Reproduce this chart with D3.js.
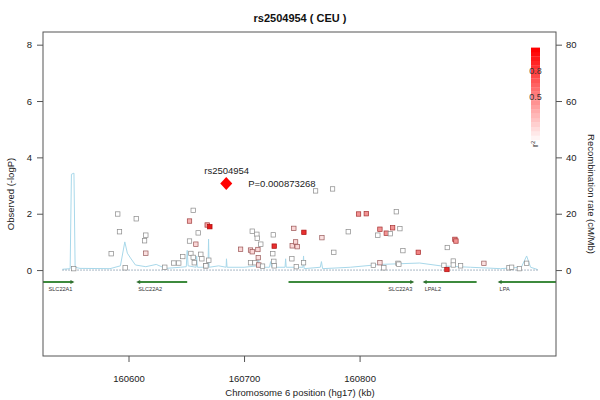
<!DOCTYPE html>
<html>
<head>
<meta charset="UTF-8"/>
<style>
    body { margin: 0; background: #fff; font-family: "Liberation Sans", Arial, Helvetica, sans-serif; }
    svg text { font-family: "Liberation Sans", Arial, Helvetica, sans-serif; }
</style>
</head>
<body>
<script src="https://d3js.org/d3.v7.min.js"></script>
<div id="chart"></div>
<script>
    // SNP positions (kb), -log10 P, r2 with the lead SNP
    var snpPos = [160552.6,160585,160590.7,160592.2,160597.1,160606.7,160613.9,160615,160615,160631.4,160639.2,160643.5,160647,
        160652.8,160652.8,160654,160656,160656,160656.9,160658.3,160660.3,160662.6,160663.5,160666.7,160667,160668.1,160669.5,160670.4,
        160697,160705.6,160705.6,160707.1,160707.1,160709.4,160711.1,160711.4,160712,160712.3,160712.8,160714.5,160716,
        160724.9,160725.3,160725.8,160726.1,160726.1,160741.4,160741.7,160743.1,160744.6,160745.2,160746,160751.5,160751.8,
        160761.9,160767.4,160776.6,160777.7,160790.2,160799.1,160805.8,160811.9,160815.8,160817.6,160817.6,160821,160823.1,
        160826.6,160828.6,160831.8,160833.2,160834,160834.9,160837.5,160850.8,160873,160875.6,160875.9,160881.1,160881.1,
        160882.5,160883.4,160887.4,160907.6,160929.3,160931.6,160938.3,160944.6];
    var snpLogP = [0.05,0.58,1.99,1.36,0.08,1.82,1.04,1.24,0.6,0.1,0.25,0.25,0.48,
        1.74,1.03,0.59,2.12,0.45,0.26,0.92,1.32,0.56,0.4,0.15,0.15,1.6,0.35,1.54,
        0.74,0.71,0.26,1.38,0.65,0.26,1.27,1.13,0.73,0.44,0.18,0.92,0.14,
        0.58,1.25,0.31,0.85,0.15,0.4,0.86,1.48,1.0,0.12,0.83,0.26,1.34,
        2.81,1.15,2.88,0.63,1.36,1.99,2.0,0.17,1.24,1.45,0.26,0.08,1.31,
        1.29,1.5,2.07,0.24,0.21,1.47,0.69,0.63,0.17,0.02,0.8,0.32,0.18,
        1.09,1.03,0.15,0.24,0.08,0.1,0.05,0.24];
    var snpR2 = [0,0,0,0,0,0,0,0,0.35,0,0,0,0,
        0.55,0,0,0,0,0,0.4,0,0,0,0,0,0.6,0,0.95,
        0.4,0.4,0,0,0.4,0,0,0,0.4,0.35,0.35,0,0,
        0,0,0,0.9,0,0,0.4,0.4,0.4,0,0.4,0,0.9,
        0,0.35,0,0,0,0.65,0.65,0,0,0.65,0.35,0,0.65,
        0,0.65,0,0,0,0,0,0.7,0,0.9,0,0,0,
        0.65,0.65,0,0.35,0,0,0,0];

    // lead SNP
    var leadName = "rs2504954", leadPos = 160684.6, leadLogP = 3.07, leadP = "P=0.000873268";

    // recombination rate (cM/Mb)
    var recPos = [160542.9,160549.5,160550.6,160552.8,160553.8,160558,160584,160593,160596.8,160599,160601.7,160606,160615,
        160624,160632,160645,160650,160650.8,160651.6,160658.5,160659,160659.6,160668.8,160669.3,160669.8,160678,160684.5,
        160684.8,160685.3,160700,160712,160712.6,160713.2,160722,160723,160724,160735.5,160736,160736.5,160751,160751.5,
        160752,160766,160767,160768,160792,160818,160852,160870,160896,160922,160940,160944.6,160948,160954];
    var recRate = [0.3,0.5,34,34.4,1,0.6,0.5,1.5,10,6,4.3,1.8,1.2,
        2,0.6,1,1.2,7,1.5,1,5,1,1,11,1,1.5,1,
        4,1,1,1.5,5,1,1,3,1,1,4,1,1,5,
        0.5,1,3,0.5,1,2,2.5,1.5,1,0.5,1,5,1,0.2];

    // genes
    var geneNames = ["SLC22A1","SLC22A2","SLC22A3","LPAL2","LPA"];
    var geneStart = [160520,160608.4,160738.5,160856.3,160921.2];
    var geneEnd = [160551.5,160650.8,160845.6,160901.3,160980];
    var geneStrand = ["+","-","+","-","-"];

    var xTicks = [160600,160700,160800];
    var yTicks = [0,2,4,6,8];
    var recTicks = [0,20,40,60,80];

    var W = 600, H = 400;
    var pL = 43, pR = 556, pT = 32, pB = 356;

    var svg = d3.select("#chart").append("svg")
        .attr("width", W).attr("height", H);

    var x = d3.scaleLinear().domain([160526, 160970]).range([pL, pR]);
    var y = d3.scaleLinear().domain([-3.05, 8.45]).range([pB, pT]);
    var yr = d3.scaleLinear().domain([-30.5, 84.5]).range([pB, pT]);

    svg.append("clipPath").attr("id", "clip")
        .append("rect").attr("x", pL).attr("y", pT).attr("width", pR - pL).attr("height", pB - pT);

    var plot = svg.append("g").attr("clip-path", "url(#clip)");

    // recombination line
    var recData = recPos.map(function(p, i) { return [p, recRate[i]]; });
    plot.append("path")
        .datum(recData)
        .attr("fill", "none")
        .attr("stroke", "#a8d8ea")
        .attr("stroke-width", 1)
        .attr("d", d3.line().x(function(d) { return x(d[0]); }).y(function(d) { return yr(d[1]); }));

    // marker rug line at zero
    plot.append("line")
        .attr("x1", x(160542.9)).attr("x2", x(160954))
        .attr("y1", y(0)).attr("y2", y(0))
        .attr("stroke", "#55708a")
        .attr("stroke-width", 1)
        .attr("stroke-dasharray", "1,2");

    // snps
    var fillCol = d3.interpolateRgb("#ffffff", "#e00000");
    var strokeCol = d3.interpolateRgb("#8a8a8a", "#b00000");
    var snps = snpPos.map(function(p, i) { return {pos: p, lp: snpLogP[i], r2: snpR2[i]}; });
    plot.selectAll("rect.snp")
        .data(snps)
        .enter()
        .append("rect")
        .attr("class", "snp")
        .attr("x", function(d) { return x(d.pos) - 2.2; })
        .attr("y", function(d) { return y(d.lp) - 2.2; })
        .attr("width", 4.4).attr("height", 4.4)
        .attr("fill", function(d) { return d.r2 < 0.3 ? "#fff" : fillCol(d.r2 * d.r2); })
        .attr("stroke", function(d) { return strokeCol(d.r2); })
        .attr("stroke-width", 0.7);

    // lead snp diamond
    var lx = x(leadPos), ly = y(leadLogP);
    plot.append("path")
        .attr("d", "M" + lx + "," + (ly - 6.5) + "L" + (lx + 6) + "," + ly + "L" + lx + "," + (ly + 6.5) + "L" + (lx - 6) + "," + ly + "Z")
        .attr("fill", "#ff0000");
    svg.append("text")
        .attr("x", lx - 22).attr("y", ly - 10)
        .attr("font-size", "9.5px").attr("fill", "#222")
        .text(leadName);
    svg.append("text")
        .attr("x", lx + 22).attr("y", ly + 3.5)
        .attr("font-size", "9.5px").attr("fill", "#222")
        .text(leadP);

    // genes
    var gy = 282;
    geneNames.forEach(function(g, i) {
        var x0 = x(geneStart[i]), x1 = x(geneEnd[i]);
        plot.append("line")
            .attr("x1", x0).attr("x2", x1).attr("y1", gy).attr("y2", gy)
            .attr("stroke", "#3d8a3d").attr("stroke-width", 2);
        var ax = geneStrand[i] == "+" ? x1 : x0;
        var dir = geneStrand[i] == "+" ? 1 : -1;
        if (ax < pR - 2) {
            plot.append("path")
                .attr("d", "M" + (ax + dir * 2) + "," + gy + "L" + (ax - dir * 2) + "," + (gy - 2) + "L" + (ax - dir * 2) + "," + (gy + 2) + "Z")
                .attr("fill", "#2f6f2f");
        }
        var lab = geneStrand[i] == "+" ? Math.min(x1, pR) : Math.max(x0, pL);
        svg.append("text")
            .attr("x", lab).attr("y", gy + 9)
            .attr("text-anchor", geneStrand[i] == "+" ? "end" : "start")
            .attr("font-size", "5.6px").attr("fill", "#333")
            .text(g);
    });

    // frame
    svg.append("rect")
        .attr("x", pL).attr("y", pT).attr("width", pR - pL).attr("height", pB - pT)
        .attr("fill", "none").attr("stroke", "#555").attr("stroke-width", 1);

    // axes
    var ax1 = svg.append("g").attr("transform", "translate(" + pL + ",0)")
        .call(d3.axisLeft(y).tickValues(yTicks).tickSize(6).tickPadding(5));
    var ax2 = svg.append("g").attr("transform", "translate(" + pR + ",0)")
        .call(d3.axisRight(yr).tickValues(recTicks).tickSize(6).tickPadding(4));
    var ax3 = svg.append("g").attr("transform", "translate(0," + pB + ")")
        .call(d3.axisBottom(x).tickValues(xTicks).tickFormat(d3.format("d")).tickSize(6).tickPadding(13));
    [ax1, ax2, ax3].forEach(function(a) {
        a.select(".domain").remove();
        a.selectAll("line").attr("stroke", "#555");
        a.selectAll("text").attr("font-size", "9.5px").attr("fill", "#222")
            .style("font-family", "'Liberation Sans', Arial, sans-serif");
    });

    // r2 legend
    var lg = d3.scaleLinear().domain([0, 1]).range([140, 52]);
    var steps = d3.range(0, 1.05, 0.05);
    svg.selectAll("rect.leg")
        .data(steps)
        .enter()
        .append("rect")
        .attr("class", "leg")
        .attr("x", 531).attr("width", 9)
        .attr("y", function(d) { return lg(d) - 4.4; })
        .attr("height", 4.6)
        .attr("fill", function(d) { return d3.interpolateRgb("#fff4f4", "#ff0000")(d); });
    svg.selectAll("text.legl")
        .data([0.8, 0.5])
        .enter()
        .append("text")
        .attr("class", "legl")
        .attr("x", 535.5).attr("y", function(d) { return lg(d) + 4; })
        .attr("text-anchor", "middle")
        .attr("font-size", "9px").attr("fill", "#333")
        .text(function(d) { return d; });
    svg.append("text")
        .attr("transform", "translate(538,147) rotate(-90)")
        .attr("font-size", "9px").attr("fill", "#333")
        .html("r<tspan dy='-3' font-size='6px'>2</tspan>");

    // titles
    svg.append("text")
        .attr("x", 300).attr("y", 22)
        .attr("text-anchor", "middle")
        .attr("font-size", "11px").attr("font-weight", "bold").attr("fill", "#111")
        .text("rs2504954 ( CEU )");
    svg.append("text")
        .attr("x", 300).attr("y", 396)
        .attr("text-anchor", "middle")
        .attr("font-size", "9.5px").attr("fill", "#222")
        .text("Chromosome 6 position (hg17) (kb)");
    svg.append("text")
        .attr("transform", "translate(14," + ((pT + pB) / 2) + ") rotate(-90)")
        .attr("text-anchor", "middle")
        .attr("font-size", "9.5px").attr("fill", "#222")
        .text("Observed (-logP)");
    svg.append("text")
        .attr("transform", "translate(588," + ((pT + pB) / 2) + ") rotate(90)")
        .attr("text-anchor", "middle")
        .attr("font-size", "9.5px").attr("fill", "#222")
        .text("Recombination rate (cM/Mb)");
</script>
</body>
</html>
